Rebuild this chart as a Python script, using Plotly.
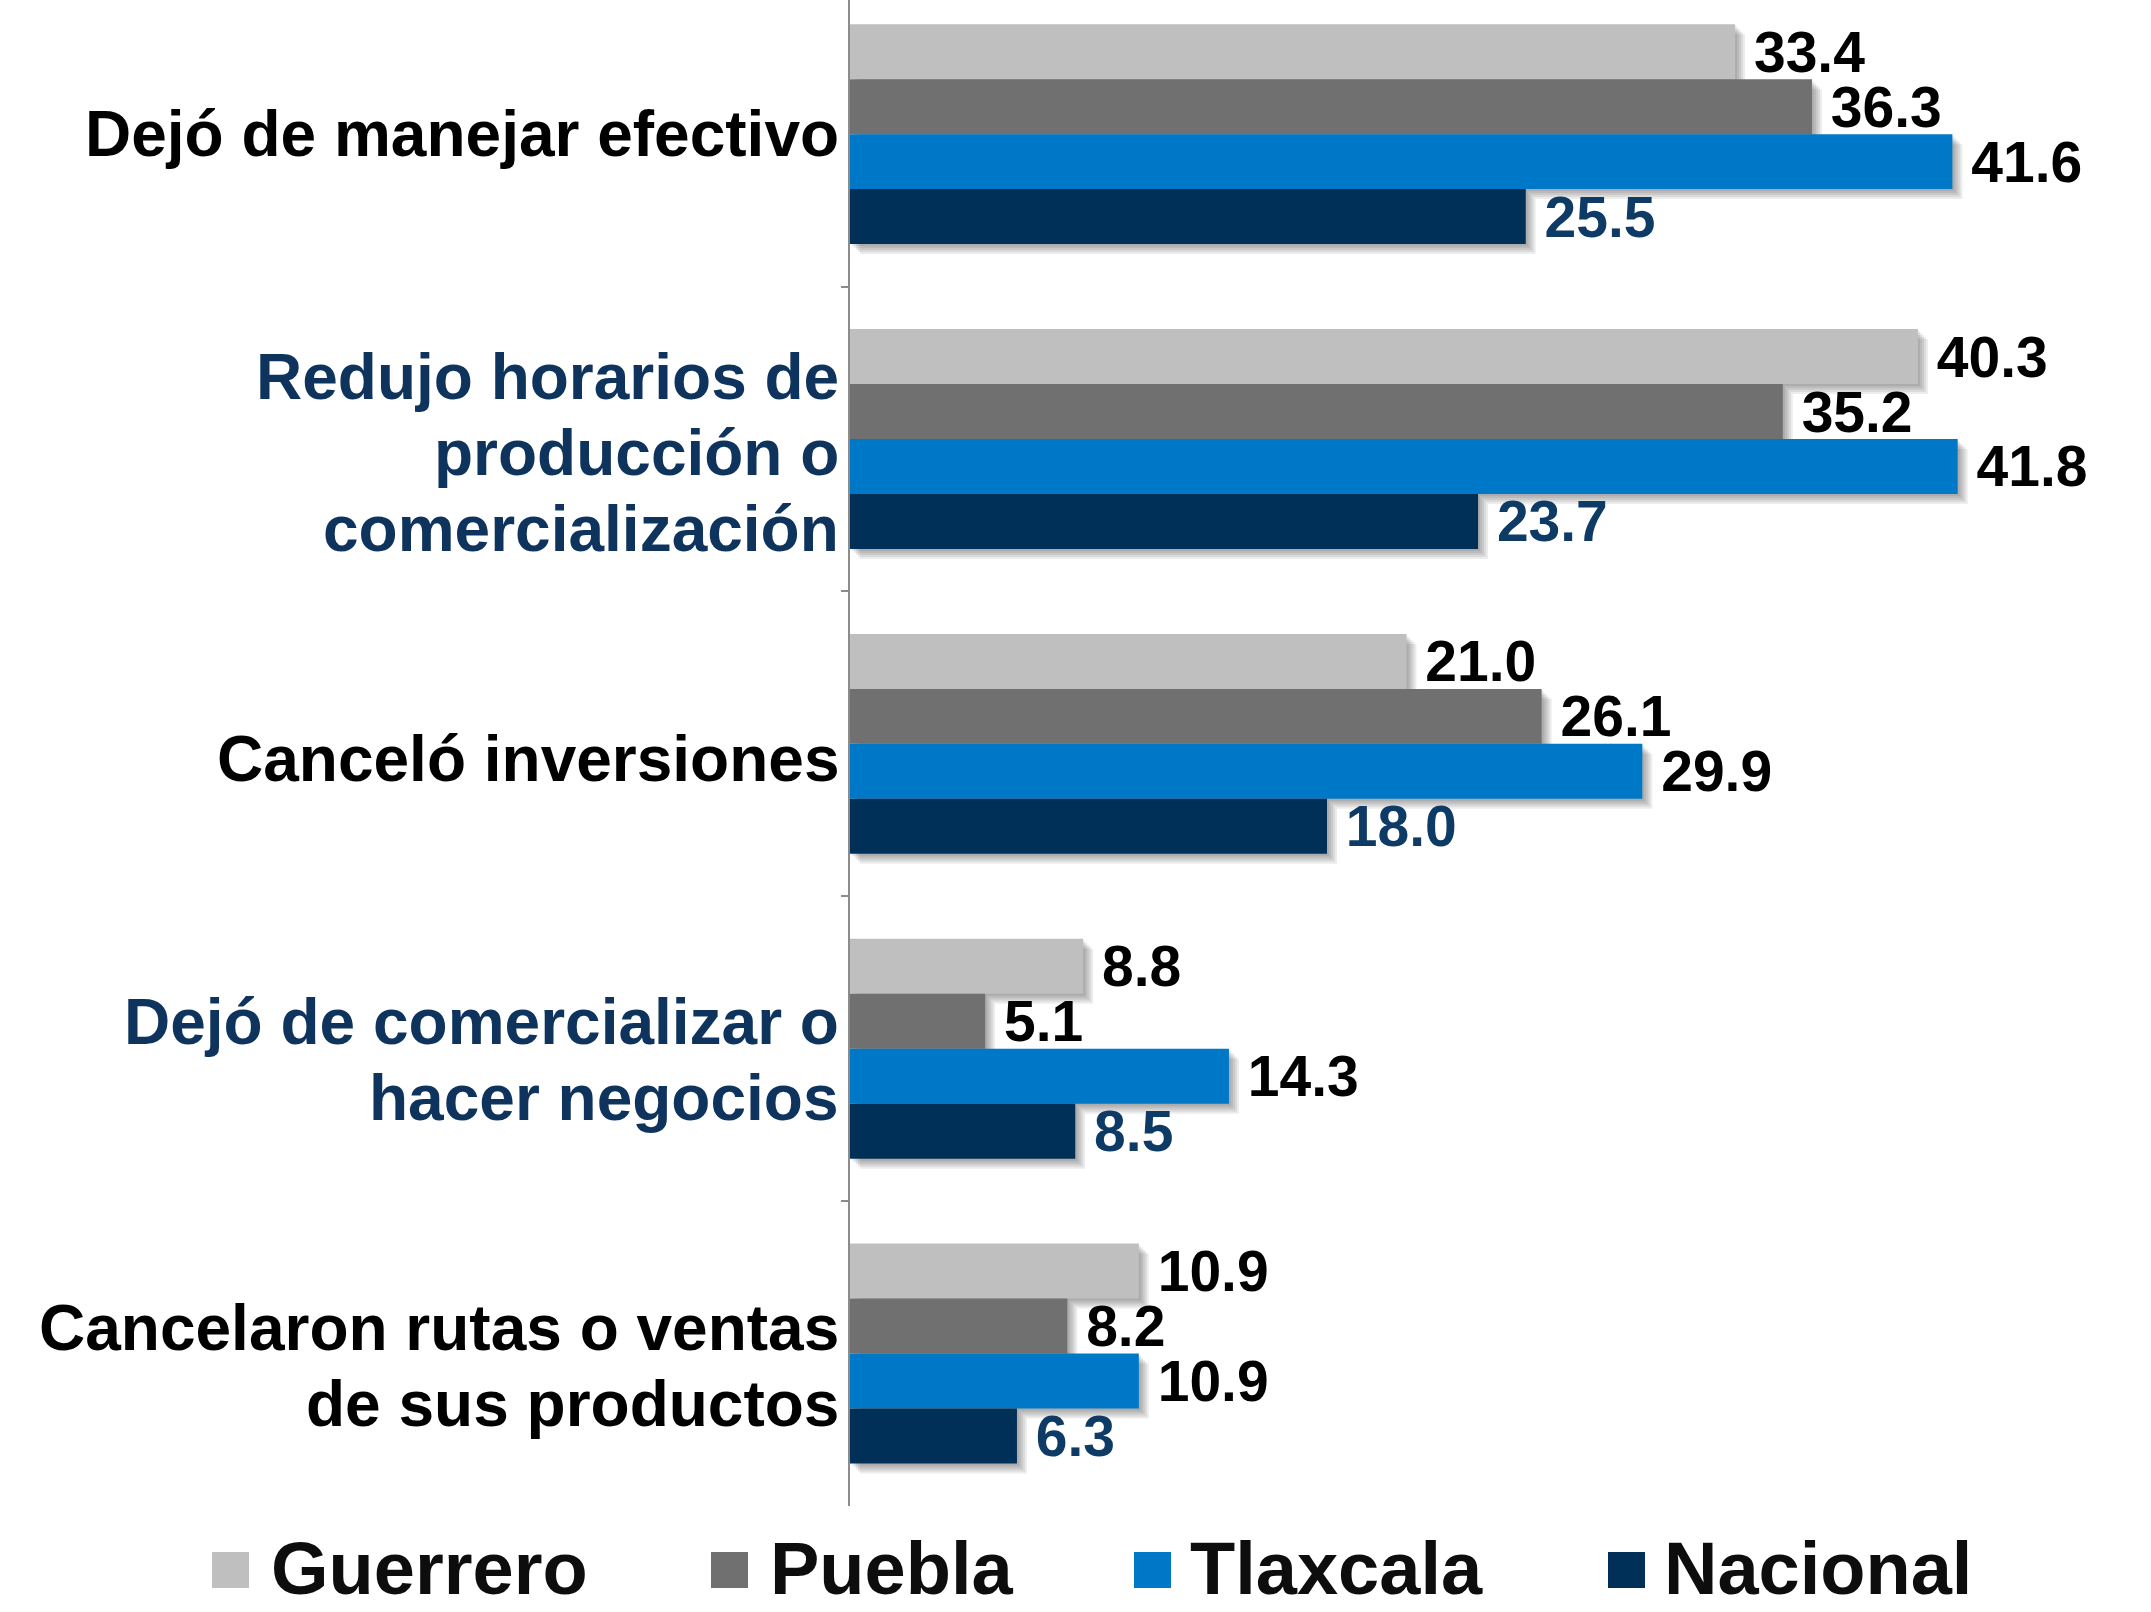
import plotly.graph_objects as go

# ---- data ----
categories = [
    "Dejó de manejar efectivo",
    "Redujo horarios de<br>producción o<br>comercialización",
    "Canceló inversiones",
    "Dejó de comercializar o<br>hacer negocios",
    "Cancelaron rutas o ventas<br>de sus productos",
]
label_colors = ["#000000", "#0E345E", "#000000", "#0E345E", "#000000"]
series_names = ["Guerrero", "Puebla", "Tlaxcala", "Nacional"]
guerrero = [33.4, 40.3, 21.0, 8.8, 10.9]
puebla = [36.3, 35.2, 26.1, 5.1, 8.2]
tlaxcala = [41.6, 41.8, 29.9, 14.3, 10.9]
nacional = [25.5, 23.7, 18.0, 8.5, 6.3]

series_values = [guerrero, puebla, tlaxcala, nacional]
bar_colors = ["#BFBFBF", "#707070", "#0078C8", "#002F57"]
text_colors = ["#000000", "#000000", "#000000", "#0E3A66"]

W, H = 2151, 1612
ML, MR, MT, MB = 850, 50, 0, 106
PW = W - ML - MR
PH = H - MT - MB
FONT = "Liberation Sans, Arial, sans-serif"
PX_PER_UNIT = 26.5          # horizontal scale
PX_PER_CAT = 305            # vertical category pitch
BAR_W = 55 / PX_PER_CAT     # bar thickness in category units
N = len(series_names)

fig = go.Figure()

# soft drop shadows (drawn first, beneath the bars)
for j, vals in enumerate(series_values):
    off = -N / 2 * BAR_W + j * BAR_W
    for d in (2, 4, 6, 8, 10):
        fig.add_trace(go.Bar(
            y=categories, x=vals, orientation="h",
            base=d / PX_PER_UNIT, offset=off + d / PX_PER_CAT, width=BAR_W,
            marker=dict(color="rgba(0,0,0,0.075)", line=dict(width=0)),
            showlegend=False, hoverinfo="skip",
        ))

for j, (name, vals, col, tcol) in enumerate(zip(series_names, series_values, bar_colors, text_colors)):
    off = -N / 2 * BAR_W + j * BAR_W
    fig.add_trace(go.Bar(
        y=categories, x=vals, name=name, orientation="h",
        offset=off, width=BAR_W,
        marker=dict(color=col, line=dict(width=0)),
        text=[f"\u00a0{v:.1f}" for v in vals],
        textposition="outside", constraintext="none", cliponaxis=False,
        textfont=dict(family=FONT, size=57, color=tcol, weight="bold"),
        showlegend=False,
    ))

fig.update_layout(
    width=W, height=H,
    margin=dict(l=ML, r=MR, t=MT, b=MB, autoexpand=False),
    barmode="overlay",
    plot_bgcolor="white", paper_bgcolor="white",
    xaxis=dict(range=[0, PW / PX_PER_UNIT], visible=False, showgrid=False, zeroline=False),
    yaxis=dict(
        categoryorder="array", categoryarray=categories,
        range=[4.5, -0.44],
        showticklabels=False,
        showline=True, linecolor="#8C8C8C", linewidth=2,
        ticks="outside", tickson="boundaries", ticklen=7, tickcolor="#8C8C8C", tickwidth=2,
        showgrid=False, zeroline=False,
    ),
)

# ---- pixel helpers ----
def px_x(x):
    return (x - ML) / PW

def px_y(y):
    return (H - MB - y) / PH

# ---- category labels (one annotation per line, tighter line spacing) ----
LINE_H = 76
label_shift = [0, 14, 15, 11, 12]
for cat, col, sh in zip(categories, label_colors, label_shift):
    lines = cat.split("<br>")
    n = len(lines)
    for k, line in enumerate(lines):
        down = (k - (n - 1) / 2) * LINE_H + sh
        fig.add_annotation(xref="paper", yref="y", x=px_x(841), y=cat,
                           xanchor="right", yanchor="middle", yshift=-down,
                           showarrow=False, text=line,
                           font=dict(family=FONT, size=64, color=col, weight="bold"))

# ---- manual legend ----
legend_sq_x = [212, 711, 1134, 1608]
legend_txt_x = [269, 768, 1188, 1662]
sq_w, sq_top, sq_bot = 37, 1552, 1588
for name, col, sx, tx in zip(series_names, bar_colors, legend_sq_x, legend_txt_x):
    fig.add_shape(type="rect", xref="paper", yref="paper",
                  x0=px_x(sx), x1=px_x(sx + sq_w), y0=px_y(sq_bot), y1=px_y(sq_top),
                  fillcolor=col, line=dict(width=0), layer="above")
    fig.add_annotation(xref="paper", yref="paper", x=px_x(tx), y=px_y(1568),
                       xanchor="left", yanchor="middle", showarrow=False,
                       text=name, font=dict(family=FONT, size=74, color="#0D0D0D", weight="bold"))

fig.write_html("out.html", config={"displayModeBar": False},
               post_script="document.body.style.margin='0';document.body.style.overflow='hidden';")
